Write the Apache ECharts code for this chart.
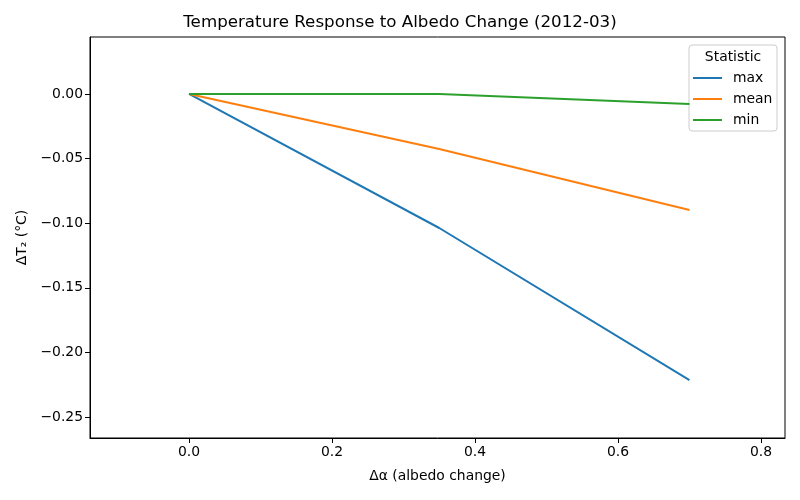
<!DOCTYPE html>
<html>
<head>
<meta charset="utf-8">
<script src="https://cdn.jsdelivr.net/npm/echarts@6/dist/echarts.min.js"></script>
<style>
  body { margin: 0; background: #fff; }
  #main { width: 800px; height: 500px; }
</style>
</head>
<body>
<div id="main"></div>
<script>
// albedo change steps
const alphaSteps = [0.0, 0.35, 0.7];
// temperature response per statistic
const maxVals = [0.0, -0.1037, -0.2214];
const meanVals = [0.0, -0.0426, -0.0898];
const minVals = [0.0, 0.0, -0.0077];
const seriesNames = ['max', 'mean', 'min'];
const xTicks = [0.0, 0.2, 0.4, 0.6, 0.8];
const yTicks = [0.0, -0.05, -0.10, -0.15, -0.20, -0.25];

const colors = ['#1f77b4', '#ff7f0e', '#2ca02c'];
const font = 'DejaVu Sans';
const fs = 13.9;

const pairs = (vals) => alphaSteps.map((x, i) => [x, vals[i]]);
const fmtNeg = (v, d) => (v < 0 ? '\u2212' : '') + Math.abs(v).toFixed(d);

let chart = echarts.init(document.getElementById('main'));

let option = {
  animation: false,
  textStyle: { fontFamily: font },
  title: {
    text: 'Temperature Response to Albedo Change (2012-03)',
    left: 'center',
    top: 9,
    textStyle: { fontFamily: font, fontSize: 16.7, fontWeight: 'normal', color: '#000' }
  },
  grid: {
    left: 90, right: 15, top: 37, bottom: 62,
    show: true, borderColor: '#000', borderWidth: 1
  },
  xAxis: {
    type: 'value',
    min: -0.1385,
    max: 0.8336,
    name: 'Δα (albedo change)',
    nameLocation: 'middle',
    nameGap: 31,
    nameTextStyle: { fontFamily: font, fontSize: fs, color: '#000' },
    splitLine: { show: false },
    axisLine: { show: true, onZero: false, lineStyle: { color: '#000' } },
    axisTick: { show: true, customValues: xTicks, length: 5, lineStyle: { color: '#000' } },
    axisLabel: {
      customValues: xTicks, color: '#000', fontSize: fs, margin: 7,
      formatter: (v) => fmtNeg(v, 1)
    }
  },
  yAxis: {
    type: 'value',
    min: -0.2662,
    max: 0.0441,
    name: 'ΔT₂ (°C)',
    nameLocation: 'middle',
    nameGap: 60,
    nameTextStyle: { fontFamily: font, fontSize: fs, color: '#000' },
    splitLine: { show: false },
    axisLine: { show: true, onZero: false, lineStyle: { color: '#000' } },
    axisTick: { show: true, customValues: yTicks, length: 5, lineStyle: { color: '#000' } },
    axisLabel: {
      customValues: yTicks, color: '#000', fontSize: fs, margin: 7,
      formatter: (v) => fmtNeg(v, 2)
    }
  },
  legend: {
    data: seriesNames,
    orient: 'vertical',
    left: 688,
    top: 65,
    icon: 'rect',
    itemWidth: 29,
    itemHeight: 2,
    itemGap: 5,
    textStyle: { fontFamily: font, fontSize: fs, color: '#000', lineHeight: 16, padding: [0, 0, 0, 6] }
  },
  graphic: [
    {
      type: 'rect',
      shape: { x: 689, y: 45, width: 88, height: 86, r: 3 },
      style: { fill: 'rgba(255,255,255,0.8)', stroke: '#ccc', lineWidth: 1 },
      z: 0
    },
    {
      type: 'text',
      x: 733, y: 57,
      style: { text: 'Statistic', font: '13.9px "DejaVu Sans"', fill: '#000', align: 'center', verticalAlign: 'middle' },
      z: 10
    }
  ],
  series: [
    { name: 'max', type: 'line', data: pairs(maxVals) },
    { name: 'mean', type: 'line', data: pairs(meanVals) },
    { name: 'min', type: 'line', data: pairs(minVals) }
  ].map((s, i) => Object.assign(s, {
    symbol: 'none',
    color: colors[i],
    lineStyle: { width: 2, color: colors[i] }
  }))
};

option && chart.setOption(option);
</script>
</body>
</html>
